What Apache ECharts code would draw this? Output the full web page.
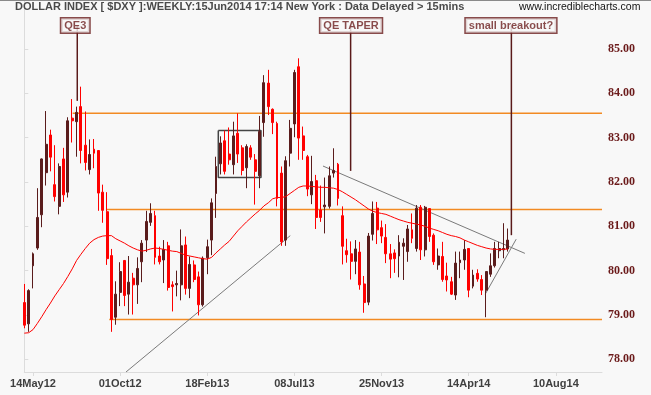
<!DOCTYPE html>
<html><head><meta charset="utf-8">
<script src="https://cdn.jsdelivr.net/npm/echarts@6/dist/echarts.min.js"></script>
<style>html,body{margin:0;padding:0;background:#f8f8f8}#c{width:651px;height:395px}</style>
</head><body><div id="c"></div>
<script>
// Weekly candles, index 0 = week of 30Apr12
const opens=[79.28,78.80,80.11,80.51,81.26,82.21,83.06,81.94,81.45,82.52,81.77,83.44,83.36,83.70,82.83,82.28,82.74,82.71,81.77,81.33,
80.34,78.95,79.51,80.23,79.47,79.83,79.68,80.20,80.69,81.09,81.24,80.33,80.24,80.56,79.68,79.68,79.68,80.58,79.60,80.13,
79.86,79.23,80.29,80.69,81.74,82.41,82.93,82.63,82.39,83.10,82.77,82.32,82.77,82.50,82.14,83.34,84.23,83.64,83.32,82.20,
80.69,82.65,83.31,84.60,83.04,82.57,81.71,82.03,81.37,81.44,81.45,82.20,82.40,81.24,80.45,80.38,80.21,80.42,79.70,79.29,
80.82,81.41,80.97,80.75,80.38,80.40,80.33,80.55,80.43,80.92,80.50,81.43,80.47,81.40,80.80,80.13,80.32,79.88,79.75,79.45,
80.18,80.24,80.50,79.65,79.94,79.80,79.56,79.92,80.11,80.45,80.47,80.49];
const closes=[78.77,79.55,80.38,81.20,82.52,82.85,82.56,81.67,82.35,81.71,83.38,83.38,83.57,82.71,82.44,82.62,82.65,81.75,81.36,80.27,
78.90,79.47,79.98,79.44,79.74,79.68,80.05,80.62,81.11,81.29,80.30,80.20,80.48,79.62,79.64,79.71,80.56,79.60,80.14,79.80,
79.23,80.28,80.54,81.53,82.35,82.88,82.24,82.50,83.04,82.63,82.26,82.80,82.56,82.24,83.14,84.24,83.70,83.34,81.63,80.65,
82.48,83.21,84.47,82.99,82.71,81.84,82.01,81.20,81.20,81.48,82.14,82.26,81.63,80.55,80.36,80.21,80.49,79.68,79.28,80.78,
81.29,80.92,80.78,80.38,80.26,80.27,80.64,80.62,80.94,80.73,81.41,80.47,81.43,80.77,80.20,80.33,79.80,79.79,79.47,80.17,
80.24,80.48,79.56,79.90,79.81,79.56,79.98,80.11,80.50,80.50,80.50,80.69];
const lows=[78.70,78.62,79.60,80.47,80.98,81.92,82.24,81.56,81.27,81.55,81.65,82.89,82.57,82.42,82.26,82.17,82.31,81.35,81.08,80.13,
78.62,78.78,79.20,79.20,79.01,79.01,79.25,79.74,80.42,81.01,80.14,80.14,79.72,79.55,79.08,79.42,79.33,79.46,79.38,79.74,
78.99,79.19,79.92,80.35,81.19,82.17,82.17,82.39,82.17,82.43,82.15,81.86,82.50,81.49,81.86,83.02,83.51,83.08,81.45,80.56,
80.56,82.35,83.01,82.50,82.50,81.68,81.50,80.94,81.10,80.84,81.40,82.10,81.47,80.14,80.18,79.80,79.92,79.57,79.05,79.22,
80.68,80.60,80.62,80.17,79.83,79.95,79.85,79.79,80.20,80.62,80.43,80.24,80.32,80.65,80.13,80.02,79.75,79.53,79.45,79.34,
79.83,80.02,79.40,79.60,79.75,79.45,78.95,79.86,80.07,80.28,80.28,80.43];
const highs=[79.70,79.58,80.41,81.86,82.53,83.60,83.18,82.83,82.42,82.77,83.46,83.87,83.70,84.15,83.59,82.96,82.97,82.72,81.94,81.77,
80.49,79.76,80.19,80.24,80.33,79.95,80.30,80.69,81.35,81.52,81.35,80.54,80.69,80.65,79.76,80.00,80.93,80.77,80.32,80.23,
79.98,80.32,80.70,81.63,82.57,83.03,83.16,83.23,83.36,83.55,82.83,82.85,82.83,82.63,83.49,84.41,84.53,83.66,83.36,82.35,
82.58,83.40,84.53,84.79,83.25,82.61,82.59,82.16,81.92,82.10,82.35,82.76,82.43,81.45,80.72,80.66,80.69,80.65,79.88,80.85,
81.56,81.55,81.13,81.05,80.60,80.48,80.80,80.73,81.03,81.29,81.48,81.48,81.46,81.41,80.84,80.50,80.65,80.18,79.86,80.43,
80.43,80.69,80.50,80.02,80.03,79.90,79.98,80.39,80.65,80.65,81.07,80.95];
// Moving average
const movingAvg=[78.59,78.60,78.67,78.81,78.96,79.12,79.27,79.43,79.57,79.71,79.87,80.04,80.23,80.37,80.50,80.62,80.70,80.75,80.78,80.79,
80.79,80.72,80.67,80.62,80.56,80.51,80.47,80.44,80.46,80.49,80.51,80.50,80.48,80.46,80.44,80.43,80.39,80.35,80.33,80.31,
80.29,80.27,80.26,80.30,80.40,80.49,80.58,80.66,80.78,80.90,81.00,81.10,81.19,81.28,81.36,81.46,81.53,81.62,81.65,81.65,
81.67,81.74,81.81,81.88,81.91,81.91,81.90,81.89,81.88,81.88,81.87,81.86,81.83,81.78,81.72,81.66,81.60,81.53,81.46,81.39,
81.34,81.31,81.29,81.27,81.23,81.19,81.15,81.12,81.09,81.07,81.05,81.03,81.00,80.96,80.93,80.90,80.86,80.82,80.79,80.77,
80.74,80.69,80.65,80.61,80.57,80.54,80.51,80.49,80.48,80.48,80.48,80.49];
const tickWeeks=[2,22,42,62,82,102,122];
const tickLabels=['14May12','01Oct12','18Feb13','08Jul13','25Nov13','14Apr14','10Aug14'];
const yTicks=[78,79,80,81,82,83,84,85];
const hLines=[{from:11.1,value:83.55},{from:18.8,value:81.38},{from:19.5,value:78.90}];
const trendLines=[[[23.34,77.714],[61.05,80.79]],[[68.56,82.36],[114.9,80.39]],[[105.8,79.47],[112.9,80.71]]];
const boxRange={x0:44.53,x1:54.33,lo:82.10,hi:83.16};
const notes=[{text:'QE3',boxWeek:11.7,week:12.16,to:83.83},{text:'QE TAPER',boxWeek:75.0,week:74.9,to:82.25},{text:'small breakout?',boxWeek:111.7,week:111.8,to:80.80}];
const NOTE_LEVEL=85.53;
const X_MAX=132.6, Y_MIN=77.714, Y_MAX=86.105;

const candles=opens.map((o,i)=>[i,o,closes[i],lows[i],highs[i]]);
const series=[];
hLines.forEach(h=>series.push({type:'line',data:[[h.from,h.value],[X_MAX,h.value]],symbol:'none',silent:true,z:3,
  lineStyle:{color:'#f28a22',width:1.5},clip:false}));
trendLines.forEach(t=>series.push({type:'line',data:t,symbol:'none',silent:true,z:4,lineStyle:{color:'#7a7a7a',width:1},clip:true}));
series.push({type:'line',symbol:'none',silent:true,z:4,lineStyle:{color:'#444',width:1.5},
  data:[[boxRange.x0,boxRange.hi],[boxRange.x1,boxRange.hi],[boxRange.x1,boxRange.lo],[boxRange.x0,boxRange.lo],[boxRange.x0,boxRange.hi]]});
series.push({type:'candlestick',data:candles,barWidth:2.4,clip:false,z:5,
  itemStyle:{color:'#5a1c1c',color0:'#ff0000',borderColor:'#5a1c1c',borderColor0:'#ff0000',borderWidth:1}});
series.push({type:'line',data:movingAvg.map((v,i)=>[i,v]),symbol:'none',z:6,lineStyle:{color:'#ff0000',width:1}});
notes.forEach(n=>series.push({type:'line',data:[[n.week,NOTE_LEVEL],[n.week,n.to]],symbol:'none',z:7,clip:false,
  lineStyle:{color:'#5a1a1a',width:1.5}}));
series.push({type:'scatter',symbolSize:0,z:8,clip:false,
  data:notes.map(n=>({value:[n.boxWeek,NOTE_LEVEL],name:n.text})),
  label:{show:true,position:'inside',formatter:p=>p.name,fontFamily:'Liberation Sans',fontWeight:'bold',fontSize:11,
    color:'#6b1f1f',backgroundColor:'#f8f8f8',borderColor:'#6b1f1f',borderWidth:1.5,padding:[2,3,1,3]}});

const chart=echarts.init(document.getElementById('c'),null,{renderer:'canvas'});
chart.setOption({
  animation:false,backgroundColor:'#f8f8f8',
  grid:{left:24.3,right:49,top:0,bottom:23},
  xAxis:{type:'value',min:0,max:X_MAX,
    axisLine:{show:true,lineStyle:{color:'#dcdcdc',width:1}},
    axisTick:{show:true,customValues:tickWeeks,length:4,lineStyle:{color:'#dcdcdc'}},
    axisLabel:{customValues:tickWeeks,formatter:v=>tickLabels[tickWeeks.indexOf(v)]||'',margin:6,
      fontFamily:'Liberation Sans',fontWeight:'bold',fontSize:11,color:'#404040'},
    splitLine:{show:false}},
  yAxis:[{type:'value',position:'right',min:Y_MIN,max:Y_MAX,
    axisLine:{show:true,lineStyle:{color:'#dcdcdc',width:1}},
    axisTick:{show:true,customValues:yTicks,length:4,lineStyle:{color:'#dcdcdc'}},
    axisLabel:{customValues:yTicks,formatter:v=>v.toFixed(2),margin:6,fontFamily:'Liberation Serif',fontWeight:'bold',fontSize:12,color:'#6b1a1a'},
    splitLine:{show:false}},
   {type:'value',position:'left',min:0,max:1,axisLine:{show:true,lineStyle:{color:'#dcdcdc'}},axisTick:{show:false},axisLabel:{show:false},splitLine:{show:false}}],
  graphic:[
    {type:'rect',shape:{x:0,y:0,width:651,height:1},style:{fill:'#8a8a8a'},z:100},
    {type:'text',left:15,top:1,style:{text:'DOLLAR INDEX [ $DXY ]:WEEKLY:15Jun2014 17:14 New York : Data Delayed > 15mins',
      font:'bold 11px "Liberation Sans"',fill:'#4a4a4a'},z:100},
    {type:'text',left:519,top:2,style:{text:'www.incrediblecharts.com',font:'10.5px "Liberation Sans"',fill:'#111'},z:100}
  ],
  series:series
});
</script></body></html>
